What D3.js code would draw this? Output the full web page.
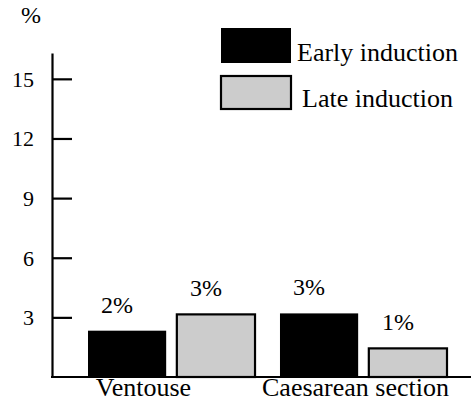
<!DOCTYPE html>
<html>
<head>
<meta charset="utf-8">
<script src="https://cdn.jsdelivr.net/npm/d3@7"></script>
</head>
<body style="margin:0; background:#fff">
<script>
// data
const categories = ['Ventouse', 'Caesarean section'];
const series = ['Early induction', 'Late induction'];
const earlyValues = [2.33, 3.2];
const lateValues = [3.15, 1.44];
const valueLabels = [['2%', '3%'], ['3%', '1%']];
const yTicks = [3, 6, 9, 12, 15];

const colors = {'Early induction': '#000000', 'Late induction': '#cccccc'};
// label nudges (layout only)
const catLabelShift = [-28, -8];
const fontFamily = 'Liberation Serif';

const width = 471, height = 411;

const svg = d3.select('body')
    .append('svg')
        .attr('width', width)
        .attr('height', height)
        .attr('font-family', fontFamily);

// scales
const y = d3.scaleLinear()
    .domain([0, 16.3])
    .range([377, 53]);

const x0 = d3.scaleBand()
    .domain(categories)
    .range([88, 447])
    .paddingInner(0.13)
    .paddingOuter(0);

const x1 = d3.scaleBand()
    .domain(series)
    .range([0, x0.bandwidth()])
    .paddingInner(0.12)
    .paddingOuter(0);

// y axis
const yAxis = d3.axisLeft(y)
    .tickValues(yTicks)
    .tickSizeInner(-20)
    .tickSizeOuter(0)
    .tickPadding(18);

const yAxisGroup = svg.append('g')
    .attr('transform', 'translate(52, 0)')
    .call(yAxis)
    .attr('font-family', fontFamily)
    .attr('font-size', 22);

yAxisGroup.select('.domain')
    .attr('stroke', '#000')
    .attr('stroke-width', 2.2);
yAxisGroup.selectAll('.tick line')
    .attr('stroke', '#000')
    .attr('stroke-width', 2.2);
yAxisGroup.selectAll('.tick text')
    .attr('fill', '#000')
    .attr('dy', '0.34em');

// unit label
svg.append('text')
    .attr('x', 31)
    .attr('y', 23)
    .attr('text-anchor', 'middle')
    .attr('font-size', 24)
    .text('%');

// bars
const rows = categories.map((c, i) => ({
    category: c,
    values: [
        {series: series[0], value: earlyValues[i], label: valueLabels[i][0]},
        {series: series[1], value: lateValues[i], label: valueLabels[i][1]}
    ]
}));

const groups = svg.selectAll('g.group')
    .data(rows)
    .enter()
    .append('g')
        .attr('class', 'group')
        .attr('transform', d => `translate(${x0(d.category)}, 0)`);

groups.selectAll('rect')
    .data(d => d.values)
    .enter()
    .append('rect')
        .attr('x', d => x1(d.series))
        .attr('y', d => y(d.value))
        .attr('width', x1.bandwidth())
        .attr('height', d => y(0) - y(d.value))
        .attr('fill', d => colors[d.series])
        .attr('stroke', d => d.series === series[1] ? '#000' : 'none')
        .attr('stroke-width', 2.2);

groups.selectAll('text.value')
    .data(d => d.values)
    .enter()
    .append('text')
        .attr('class', 'value')
        .attr('x', d => x1(d.series) + x1.bandwidth() / 2 - 10)
        .attr('y', d => y(d.value) - 18)
        .attr('text-anchor', 'middle')
        .attr('font-size', 24)
        .text(d => d.label);

// x axis line
svg.append('line')
    .attr('x1', 51)
    .attr('x2', width)
    .attr('y1', y(0))
    .attr('y2', y(0))
    .attr('stroke', '#000')
    .attr('stroke-width', 2.2);

// category labels
svg.selectAll('text.cat')
    .data(categories)
    .enter()
    .append('text')
        .attr('class', 'cat')
        .attr('x', (d, i) => x0(d) + x0.bandwidth() / 2 + catLabelShift[i])
        .attr('y', 396)
        .attr('text-anchor', 'middle')
        .attr('font-size', 26)
        .text(d => d);

// legend
const legend = svg.selectAll('g.legend')
    .data(series)
    .enter()
    .append('g')
        .attr('class', 'legend')
        .attr('transform', (d, i) => `translate(221, ${28 + i * 48})`);

legend.append('rect')
    .attr('width', 70)
    .attr('height', (d, i) => i === 0 ? 35 : 33)
    .attr('fill', d => colors[d])
    .attr('stroke', d => d === series[1] ? '#000' : 'none')
    .attr('stroke-width', 2.2);

legend.append('text')
    .attr('x', (d, i) => i === 0 ? 76 : 81)
    .attr('y', (d, i) => i === 0 ? 33 : 31)
    .attr('font-size', 26)
    .text(d => d);
</script>
</body>
</html>
